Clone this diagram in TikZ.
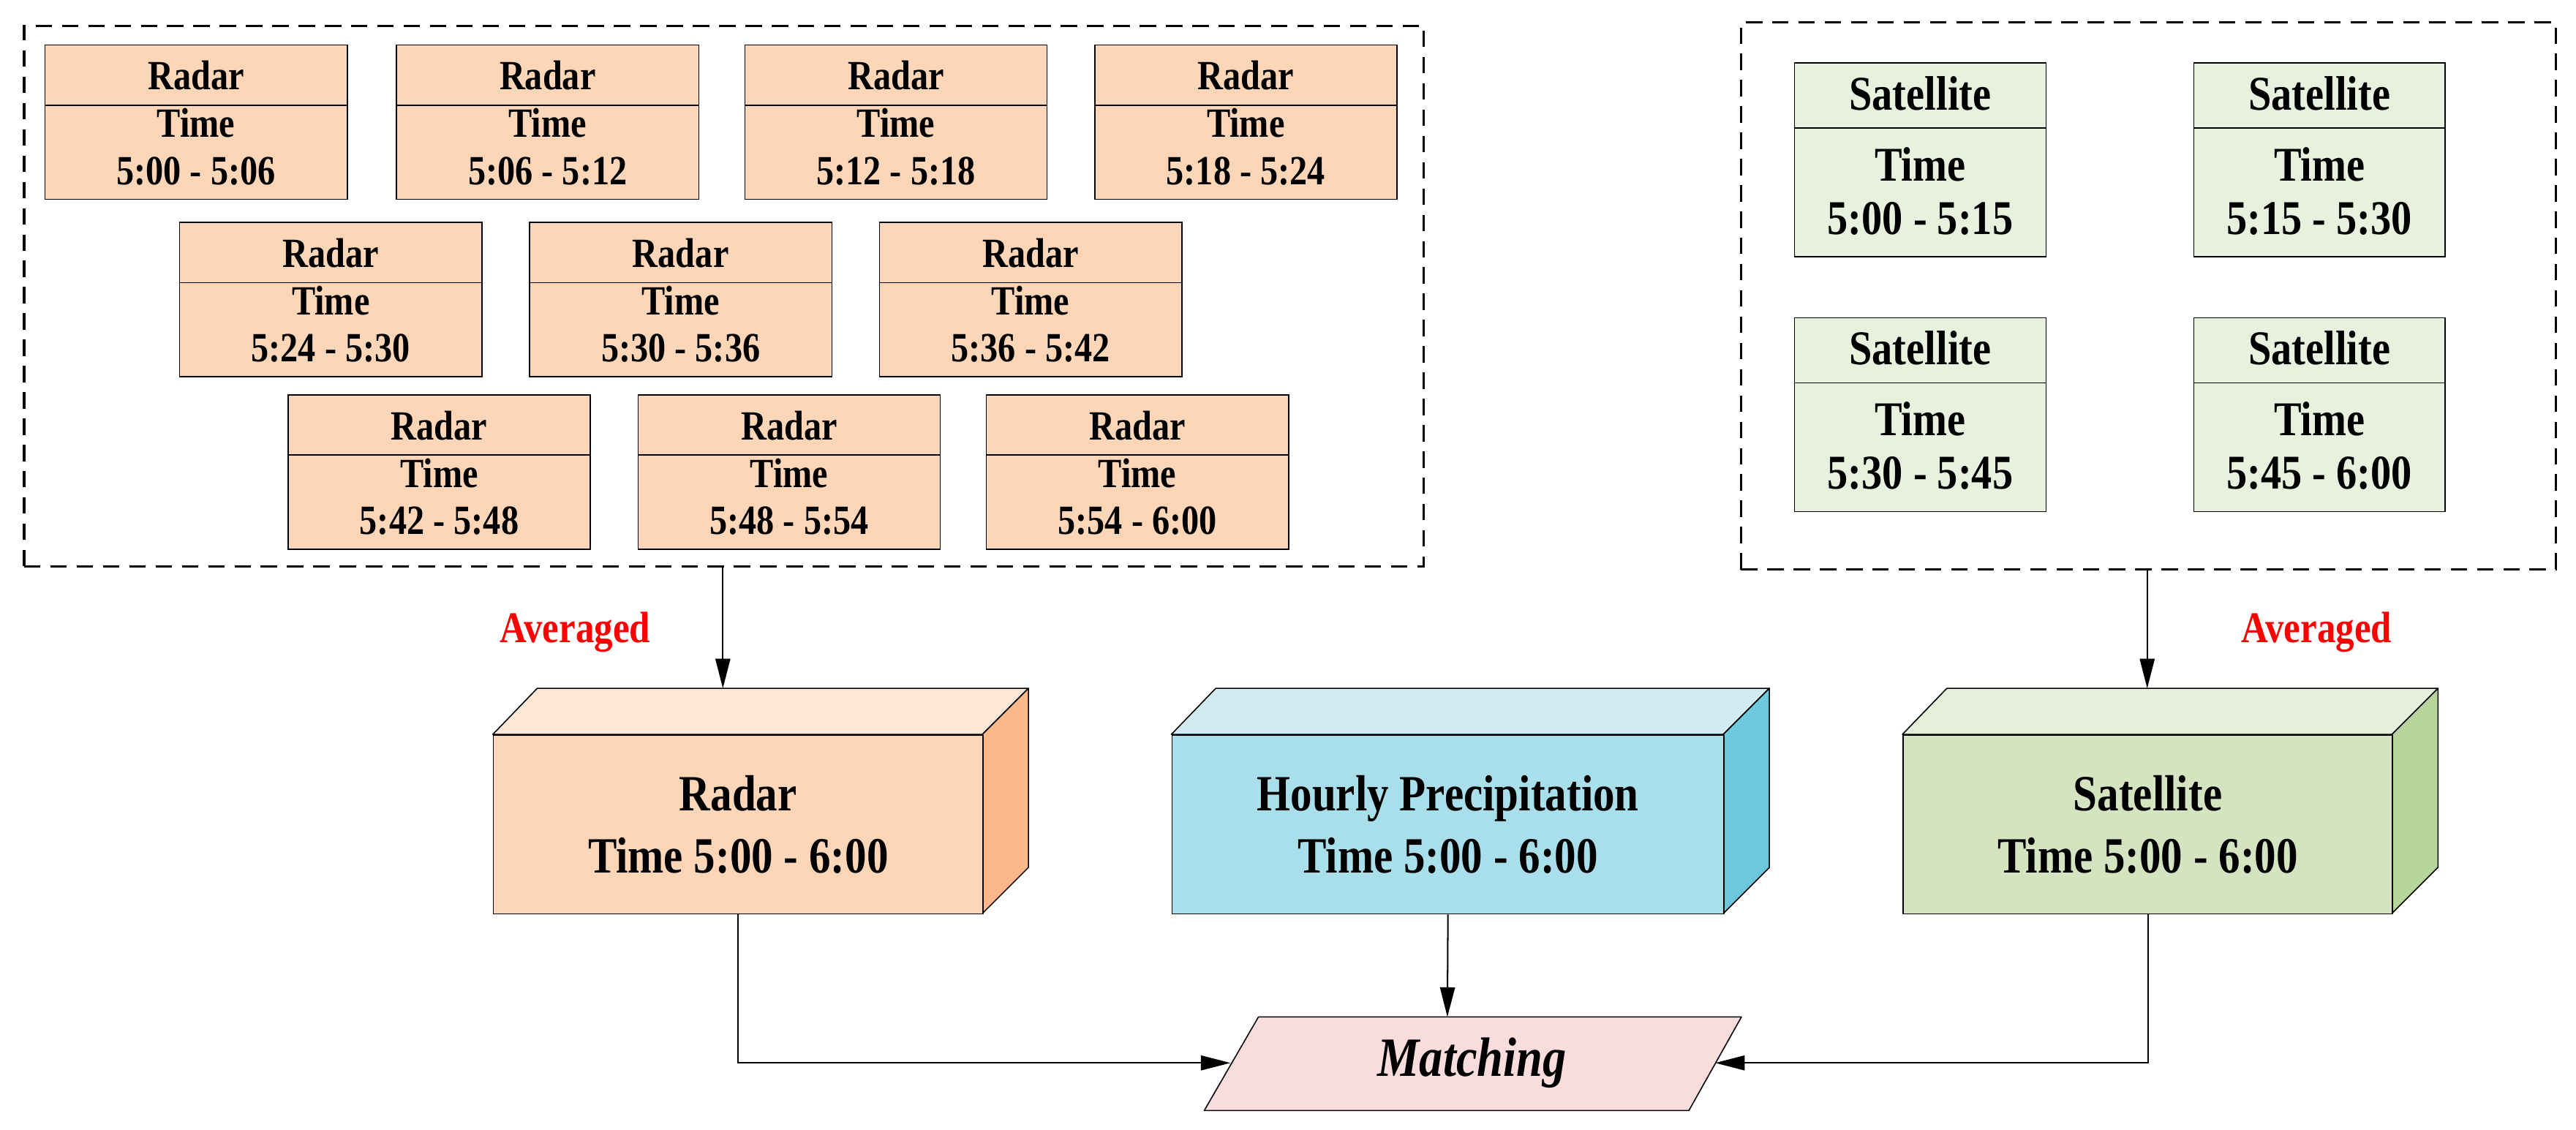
\documentclass[tikz,border=0pt]{standalone}
\usepackage{fontspec}
\setmainfont{Liberation Serif}[FakeStretch=0.85]
\usetikzlibrary{arrows.meta}
\definecolor{radF}{HTML}{FDD6B8}
\definecolor{radT}{HTML}{FDE8D8}
\definecolor{radS}{HTML}{FDB88A}
\definecolor{hpF}{HTML}{A8DFEA}
\definecolor{hpT}{HTML}{D0ECF2}
\definecolor{hpS}{HTML}{6CC8DC}
\definecolor{satF}{HTML}{D5E4C0}
\definecolor{satT}{HTML}{E6EFD9}
\definecolor{satS}{HTML}{B7D49A}
\definecolor{satB}{HTML}{E8F0DE}
\definecolor{matF}{HTML}{F9DCDC}
\tikzset{
 smallbox/.style={draw,line width=0.35mm,anchor=north west,inner sep=0pt},
 grp/.style={draw,line width=0.7mm,dash pattern=on 5mm off 3mm},
 conn/.style={line width=0.45mm,-{Triangle[length=9mm,width=4.5mm]}},
 rtxt/.style={font=\fontsize{36}{41}\selectfont\bfseries,inner sep=0pt},
 stxt/.style={font=\fontsize{42}{47}\selectfont\bfseries,inner sep=0pt},
 btxt/.style={font=\fontsize{44}{54}\selectfont\bfseries,align=center,inner sep=0pt},
 avg/.style={font=\fontsize{38}{40}\selectfont\bfseries,text=red,inner sep=0pt},
 face/.style={draw,line width=0.35mm,line join=round}
}
\newcommand\RB[4]{%
 \node[smallbox,fill=radF,minimum width=92mm,minimum height=47mm] (#1) at (#2,#3) {};
 \draw[line width=0.35mm] ([yshift=-18.5mm]#1.north west) -- ([yshift=-18.5mm]#1.north east);
 \node[rtxt] at ([yshift=-9.5mm]#1.north) {Radar};
 \node[rtxt] at ([yshift=-24mm]#1.north) {Time};
 \node[rtxt] at ([yshift=-38.5mm]#1.north) {#4};}
\newcommand\SB[4]{%
 \node[smallbox,fill=satB,minimum width=76.5mm,minimum height=59mm] (#1) at (#2,#3) {};
 \draw[line width=0.35mm] ([yshift=-20mm]#1.north west) -- ([yshift=-20mm]#1.north east);
 \node[stxt] at ([yshift=-9.5mm]#1.north) {Satellite};
 \node[stxt] at ([yshift=-31mm]#1.north) {Time};
 \node[stxt] at ([yshift=-47.5mm]#1.north) {#4};}
\newcommand\BOX[7]{% name x1 x2 front top side text
 \fill[#5] (#2,447) -- (#2+27,419) -- (#3+28,419) -- (#3,447) -- cycle;
 \draw[face] (#2,447) -- (#2+27,419) -- (#3+28,419) -- (#3,447) -- cycle;
 \draw[face,fill=#6] (#3,447) -- (#3+28,419) -- (#3+28,528) -- (#3,556) -- cycle;
 \node[face,fill=#4,anchor=north west,minimum width={(#3-#2)*0.5mm},minimum height=54.5mm] (#1) at (#2,447) {};
 \node[btxt] at (#1.center) {#7};}
\begin{document}
\begin{tikzpicture}[x=0.5mm,y=-0.5mm]
\useasboundingbox (0,0) rectangle (1568,687.5);
\node[grp,anchor=north west,minimum width=426mm,minimum height=164.5mm,inner sep=0pt] (L) at (14,15) {};
\node[grp,anchor=north west,minimum width=248mm,minimum height=166.5mm,inner sep=0pt] (R) at (1059,13) {};
\RB{r1}{27}{27}{5:00 - 5:06}
\RB{r2}{241}{27}{5:06 - 5:12}
\RB{r3}{453}{27}{5:12 - 5:18}
\RB{r4}{666}{27}{5:18 - 5:24}
\RB{r5}{109}{135}{5:24 - 5:30}
\RB{r6}{322}{135}{5:30 - 5:36}
\RB{r7}{535}{135}{5:36 - 5:42}
\RB{r8}{175}{240}{5:42 - 5:48}
\RB{r9}{388}{240}{5:48 - 5:54}
\RB{r10}{600}{240}{5:54 - 6:00}
\SB{s1}{1092}{38}{5:00 - 5:15}
\SB{s2}{1335}{38}{5:15 - 5:30}
\SB{s3}{1092}{193}{5:30 - 5:45}
\SB{s4}{1335}{193}{5:45 - 6:00}
\BOX{bR}{300}{598}{radF}{radT}{radS}{Radar\\Time 5:00 - 6:00}
\BOX{bH}{713}{1049}{hpF}{hpT}{hpS}{Hourly Precipitation\\Time 5:00 - 6:00}
\BOX{bS}{1158}{1456}{satF}{satT}{satS}{Satellite\\Time 5:00 - 6:00}
\coordinate (m1) at (766,619); \coordinate (m2) at (1060,619);
\coordinate (m3) at (1028,676); \coordinate (m4) at (733,676);
\draw[face,fill=matF] (m1) -- (m2) -- (m3) -- (m4) -- cycle;
\node[font=\fontsize{48}{50}\selectfont\bfseries\itshape,inner sep=0pt] (M) at (896,647) {Matching};
\coordinate (ml) at (749,647); \coordinate (mr) at (1044,647); \coordinate (mt) at (881,619);
\coordinate (la) at (440,344.5); \coordinate (lb) at (440,419);
\coordinate (ra) at (1307,346.5); \coordinate (rb) at (1307,419);
\draw[conn] (la) -- (lb);
\draw[conn] (ra) -- (rb);
\node[avg] at (350,385) {Averaged};
\node[avg] at (1410,385) {Averaged};
\draw[conn] (bR.south) |- (ml);
\draw[conn] (bH.south) -- (mt);
\draw[conn] (bS.south) |- (mr);
\end{tikzpicture}
\end{document}
